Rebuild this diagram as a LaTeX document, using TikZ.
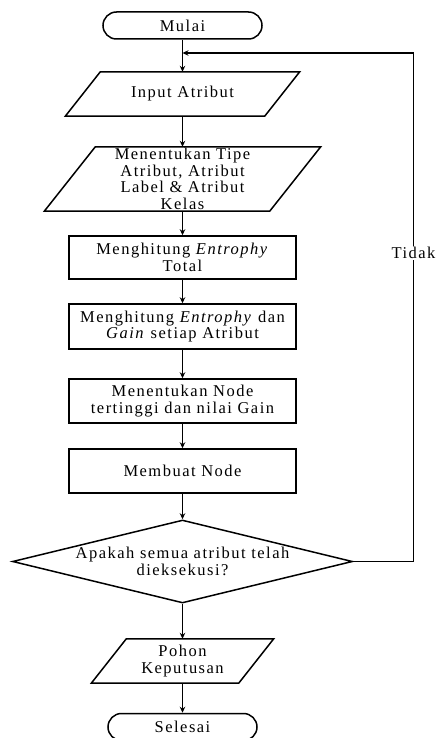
\documentclass[tikz,border=0pt]{standalone}
\usepackage{fontspec}
\setmainfont{Liberation Serif}[LetterSpace=9]
\usetikzlibrary{shapes.geometric,arrows.meta}

\tikzset{
  base/.style={inner sep=0pt, align=center, font=\fontsize{16.5}{16.5}\selectfont},
  terminal/.style={base, draw, line width=1.5pt, rounded corners=13.5pt},
  process/.style={base, draw, line width=1.5pt},
  iobox/.style={base, draw=none},
  decision/.style={base, draw, line width=1.5pt, diamond, aspect=4.1},
  flow/.style={line width=1.5pt, -{Stealth[length=6pt,width=5.5pt]}},
  outline/.style={line width=1.5pt, line join=miter}
}

% parallelogram drawn around an io node: #1 node name, #2 half of the slant
\newcommand{\slantbox}[2]{%
  \draw[outline] ([xshift=#2pt]#1.north west) -- ([xshift=#2pt]#1.north east)
    -- ([xshift=-#2pt]#1.south east) -- ([xshift=-#2pt]#1.south west) -- cycle;}

\begin{document}
\begin{tikzpicture}[x=1pt,y=-1pt]
\useasboundingbox (0,0) rectangle (439,738);

\node[terminal, minimum width=159pt, minimum height=27pt] (start) at (182.5,25.5) {Mulai};
\node[iobox, minimum width=199pt, minimum height=44pt] (input) at (182.5,94) {Input Atribut};
\node[iobox, minimum width=225pt, minimum height=64pt, text width=170pt] (tipe) at (182.5,179)
  {Menentukan Tipe\\Atribut, Atribut\\Label \& Atribut\\Kelas};
\node[process, minimum width=227pt, minimum height=43pt] (total) at (182.5,257.5)
  {Menghitung \textit{Entrophy}\\Total};
\node[process, minimum width=227pt, minimum height=45pt] (gain) at (182.5,326.5)
  {Menghitung \textit{Entrophy} dan\\\textit{Gain} setiap Atribut};
\node[process, minimum width=227pt, minimum height=44pt] (tinggi) at (182.5,401)
  {Menentukan Node\\tertinggi dan nilai Gain};
\node[process, minimum width=227pt, minimum height=44pt] (buat) at (182.5,471) {Membuat Node};
\node[decision, minimum width=340pt, minimum height=83pt] (cek) at (182.5,561.5)
  {Apakah semua atribut telah\\dieksekusi?};
\node[iobox, minimum width=147pt, minimum height=44pt] (pohon) at (182.5,661)
  {Pohon\\Keputusan};
\node[terminal, minimum width=149pt, minimum height=27pt] (end) at (182.5,727) {Selesai};

\slantbox{input}{17.5}
\slantbox{tipe}{25.5}
\slantbox{pohon}{17.5}

\coordinate (loopin) at (182.5,53);
\coordinate (loopright) at (413.5,53);

\draw[flow] (start) -- (input);
\draw[flow] (input) -- (tipe);
\draw[flow] (tipe) -- (total);
\draw[flow] (total) -- (gain);
\draw[flow] (gain) -- (tinggi);
\draw[flow] (tinggi) -- (buat);
\draw[flow] (buat) -- (cek);
\draw[flow] (cek) -- (pohon);
\draw[flow] (pohon) -- (end);

\draw[flow] (cek.east) -| (loopright) -- (loopin);
\node[base, fill=white, inner sep=1.5pt] (tidak) at (413.5,253) {Tidak};
\end{tikzpicture}
\end{document}
